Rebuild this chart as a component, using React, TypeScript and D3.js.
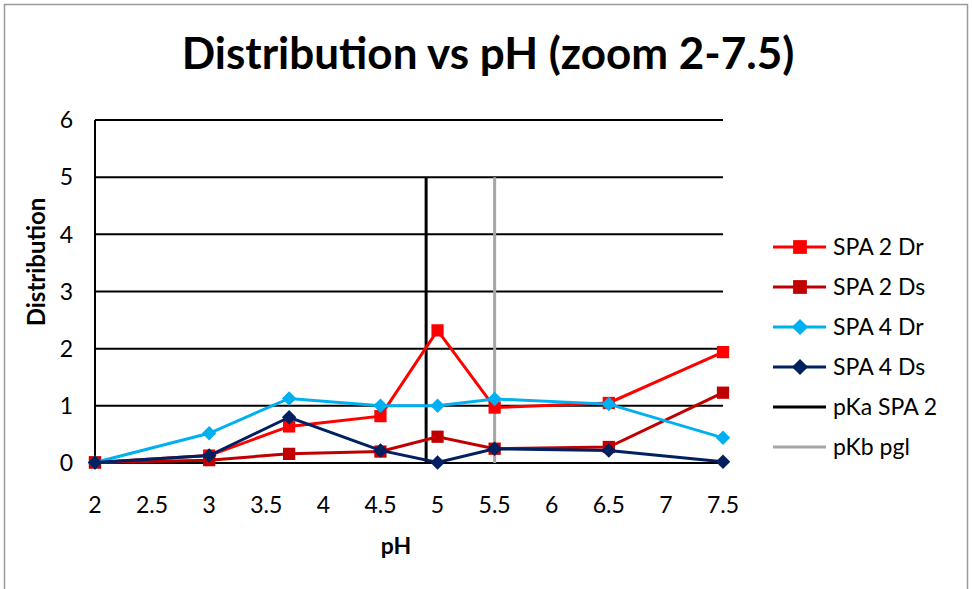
import { useRef, useEffect } from "react";
import * as d3 from "d3";

// pH values where samples were measured
const phValues = [2, 3, 3.7, 4.5, 5, 5.5, 6.5, 7.5];

// distribution values read per series
const spa2Dr = [0.01, 0.13, 0.64, 0.82, 2.32, 0.97, 1.05, 1.94];
const spa2Ds = [0.01, 0.05, 0.16, 0.2, 0.46, 0.25, 0.28, 1.23];
const spa4Dr = [0.01, 0.52, 1.13, 1.0, 1.0, 1.12, 1.03, 0.44];
const spa4Ds = [0.01, 0.13, 0.8, 0.22, 0.01, 0.25, 0.22, 0.02];

// reference lines (x, y pairs)
const pKaSpa2 = [
  { x: 4.9, y: 0 },
  { x: 4.9, y: 5 },
];
const pKbPgl = [
  { x: 5.5, y: 0 },
  { x: 5.5, y: 5 },
];

const xTicks = [2, 2.5, 3, 3.5, 4, 4.5, 5, 5.5, 6, 6.5, 7, 7.5];
const yTicks = [0, 1, 2, 3, 4, 5, 6];

const seriesNames = ["SPA 2 Dr", "SPA 2 Ds", "SPA 4 Dr", "SPA 4 Ds", "pKa SPA 2", "pKb pgl"];

export default function App() {
  const chartRef = useRef<SVGSVGElement>(null);

  useEffect(() => {
    if (!chartRef.current) return;
    const svg = d3.select(chartRef.current);
    svg.selectAll("*").remove();

    const width = 973;
    const height = 589;
    const font = "Lato, 'Open Sans', sans-serif";

    const x = d3.scaleLinear().domain([2, 7.5]).range([95, 723]);
    const y = d3.scaleLinear().domain([0, 6]).range([463, 120]);

    svg.append("rect").attr("width", width).attr("height", height).attr("fill", "#fff");

    // outer chart border
    svg
      .append("rect")
      .attr("x", 4.5)
      .attr("y", 4.5)
      .attr("width", 963)
      .attr("height", 620)
      .attr("fill", "none")
      .attr("stroke", "#9a9a9a")
      .attr("stroke-width", 1.5);

    // title
    svg
      .append("text")
      .attr("x", 488)
      .attr("y", 69)
      .attr("text-anchor", "middle")
      .attr("font-family", font)
      .attr("font-weight", "bold")
      .attr("font-size", 44)
      .text("Distribution vs pH (zoom 2-7.5)");

    // horizontal gridlines
    svg
      .append("g")
      .selectAll("line")
      .data(yTicks)
      .enter()
      .append("line")
      .attr("x1", x(2))
      .attr("x2", x(7.5))
      .attr("y1", (d) => y(d))
      .attr("y2", (d) => y(d))
      .attr("stroke", "#000")
      .attr("stroke-width", 2);

    // y axis line
    svg
      .append("line")
      .attr("x1", x(2))
      .attr("x2", x(2))
      .attr("y1", y(6))
      .attr("y2", y(0))
      .attr("stroke", "#000")
      .attr("stroke-width", 2);

    // y tick labels
    svg
      .append("g")
      .selectAll("text")
      .data(yTicks)
      .enter()
      .append("text")
      .attr("x", 73)
      .attr("y", (d) => y(d))
      .attr("dy", "0.36em")
      .attr("text-anchor", "end")
      .attr("font-family", font)
      .attr("font-size", 23)
      .text((d) => d);

    // x tick labels
    svg
      .append("g")
      .selectAll("text")
      .data(xTicks)
      .enter()
      .append("text")
      .attr("x", (d) => x(d))
      .attr("y", 513)
      .attr("text-anchor", "middle")
      .attr("font-family", font)
      .attr("font-size", 23)
      .text((d) => d);

    // axis titles
    svg
      .append("text")
      .attr("x", 396)
      .attr("y", 554)
      .attr("text-anchor", "middle")
      .attr("font-family", font)
      .attr("font-weight", "bold")
      .attr("font-size", 23)
      .text("pH");

    svg
      .append("text")
      .attr("transform", "translate(45,262) rotate(-90)")
      .attr("text-anchor", "middle")
      .attr("font-family", font)
      .attr("font-weight", "bold")
      .attr("font-size", 24)
      .text("Distribution");

    const line = d3
      .line<{ x: number; y: number }>()
      .x((d) => x(d.x))
      .y((d) => y(d.y));

    // reference lines drawn beneath the series
    svg
      .append("path")
      .attr("d", line(pKaSpa2))
      .attr("fill", "none")
      .attr("stroke", "#000")
      .attr("stroke-width", 3);
    svg
      .append("path")
      .attr("d", line(pKbPgl))
      .attr("fill", "none")
      .attr("stroke", "#a6a6a6")
      .attr("stroke-width", 3);

    const square = d3.symbol().type(d3.symbolSquare);

    const series = [
      { values: spa2Dr, color: "#ff0000", rot: 0, size: 150 },
      { values: spa2Ds, color: "#c00000", rot: 0, size: 150 },
      { values: spa4Dr, color: "#00b0f0", rot: 45, size: 105 },
      { values: spa4Ds, color: "#002060", rot: 45, size: 105 },
    ];

    series.forEach((s) => {
      const pts = phValues.map((p, i) => ({ x: p, y: s.values[i] }));
      svg
        .append("path")
        .attr("d", line(pts))
        .attr("fill", "none")
        .attr("stroke", s.color)
        .attr("stroke-width", 3);
      svg
        .append("g")
        .selectAll("path")
        .data(pts)
        .enter()
        .append("path")
        .attr("transform", (d) => `translate(${x(d.x)},${y(d.y)}) rotate(${s.rot})`)
        .attr("d", square.size(s.size)())
        .attr("fill", s.color);
    });

    // legend
    const legendColors = ["#ff0000", "#c00000", "#00b0f0", "#002060", "#000", "#a6a6a6"];
    const legend = svg.append("g").attr("transform", "translate(773,247)");
    seriesNames.forEach((name, i) => {
      const g = legend.append("g").attr("transform", `translate(0,${i * 40})`);
      g.append("line")
        .attr("x1", 0)
        .attr("x2", 53)
        .attr("stroke", legendColors[i])
        .attr("stroke-width", 3);
      if (i < 4) {
        g.append("path")
          .attr("transform", `translate(27,0) rotate(${i < 2 ? 0 : 45})`)
          .attr("d", square.size(i < 2 ? 190 : 130)())
          .attr("fill", legendColors[i]);
      }
      g.append("text")
        .attr("x", 60)
        .attr("dy", "0.36em")
        .attr("font-family", font)
        .attr("font-size", 23)
        .text(name);
    });
  }, []);

  return (
    <svg
      ref={chartRef}
      width={973}
      height={589}
      style={{ position: "absolute", left: 0, top: 0 }}
    />
  );
}
